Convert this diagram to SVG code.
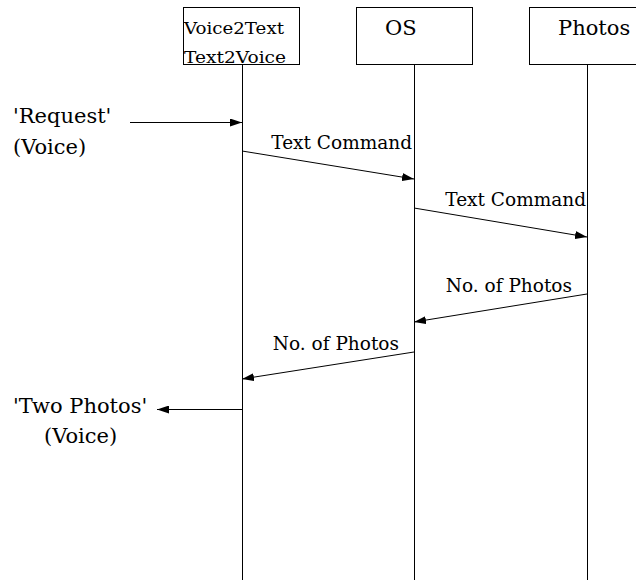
<svg xmlns="http://www.w3.org/2000/svg" width="636" height="580" viewBox="0 0 636 580">
<defs>
<style>
text{font-family:"DejaVu Serif","Liberation Serif",serif;fill:#000}
.big{font-size:21px}
.small{font-size:18.5px}
.box-label{font-size:16px}
.box{fill:#fff;stroke:#000;stroke-width:1}
.life{stroke:#000;stroke-width:1;fill:none}
.msg{stroke:#000;stroke-width:1;fill:none;marker-end:url(#ah)}
</style>
<marker id="ah" viewBox="0 0 12 8" refX="12" refY="4" markerWidth="12" markerHeight="8" markerUnits="userSpaceOnUse" orient="auto">
<path d="M0,0 L12,4 L0,8 Z" fill="#000"/>
</marker>
</defs>
<g id="lifelines">
<line class="life" x1="242.5" y1="65" x2="242.5" y2="580"/>
<line class="life" x1="414.5" y1="65" x2="414.5" y2="580"/>
<line class="life" x1="587.5" y1="65" x2="587.5" y2="580"/>
</g>
<g id="node-voice">
<rect class="box" x="183.5" y="7.5" width="116" height="57"/>
<text class="box-label" x="184" y="34" textLength="100" lengthAdjust="spacingAndGlyphs">Voice2Text</text>
<text class="box-label" x="184" y="63" textLength="102" lengthAdjust="spacingAndGlyphs">Text2Voice</text>
</g>
<g id="node-os">
<rect class="box" x="356.5" y="7.5" width="116" height="57"/>
<text class="big" x="385" y="35">OS</text>
</g>
<g id="node-photos">
<rect class="box" x="529.5" y="7.5" width="116" height="57"/>
<text class="big" x="558" y="35">Photos</text>
</g>
<g id="ext-request">
<text class="big" x="13" y="123">'Request'</text>
<text class="big" x="13" y="154">(Voice)</text>
</g>
<g id="ext-reply">
<text class="big" x="13" y="413">'Two Photos'</text>
<text class="big" x="44" y="443">(Voice)</text>
</g>
<g id="connectors">
<line class="msg" x1="130" y1="122.5" x2="242" y2="122.5"/>
<line class="msg" x1="242" y1="151" x2="414" y2="179"/>
<text class="small" x="412" y="149" text-anchor="end">Text Command</text>
<line class="msg" x1="414" y1="208" x2="587" y2="237"/>
<text class="small" x="586" y="206" text-anchor="end">Text Command</text>
<line class="msg" x1="587" y1="294" x2="414" y2="322"/>
<text class="small" x="572" y="292" text-anchor="end">No. of Photos</text>
<line class="msg" x1="414" y1="352" x2="242" y2="379"/>
<text class="small" x="399" y="350" text-anchor="end">No. of Photos</text>
<line class="msg" x1="242" y1="409.5" x2="157" y2="409.5"/>
</g>
</svg>
